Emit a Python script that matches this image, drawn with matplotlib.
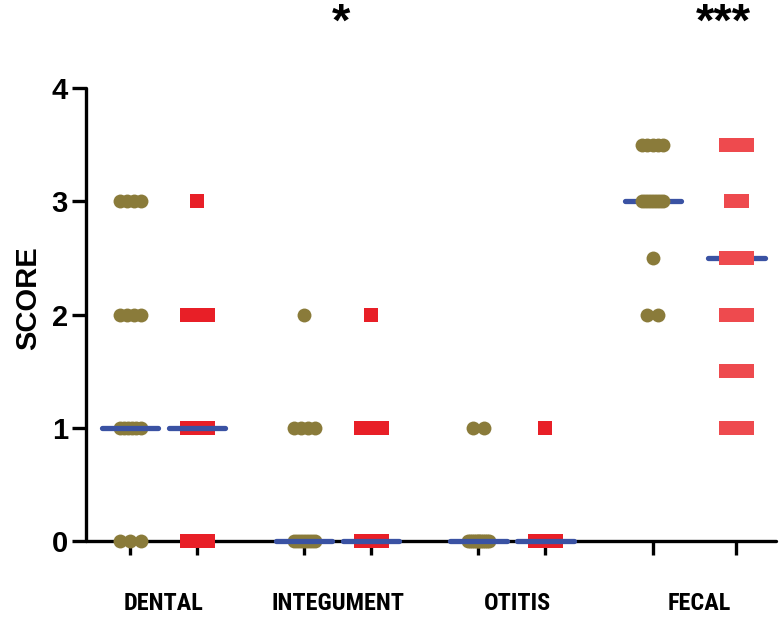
import numpy as np
import matplotlib
matplotlib.use("Agg")
import matplotlib.pyplot as plt
from matplotlib.transforms import blended_transform_factory
from matplotlib import font_manager as fm

# ---- data (scores) ----
categories = ["DENTAL", "INTEGUMENT", "OTITIS", "FECAL"]
dental_a = [3]*4 + [2]*4 + [1]*6 + [0]*3
dental_b = [3]*1 + [2]*4 + [1]*4 + [0]*3
integ_a = [2]*1 + [1]*4 + [0]*8
integ_b = [2]*1 + [1]*4 + [0]*7
otitis_a = [1]*2 + [0]*12
otitis_b = [1]*1 + [0]*10
fecal_a = [3.5]*5 + [3]*8 + [2.5]*1 + [2]*2
fecal_b = [3.5]*5 + [3]*2 + [2.5]*4 + [2]*3 + [1.5]*3 + [1]*3
series = [dental_a, dental_b, integ_a, integ_b, otitis_a, otitis_b, fecal_a, fecal_b]
yticks = [0, 1, 2, 3, 4]
signif = ["", "*", "", "***"]

# ---- layout / style ----
positions = [1, 2, 3.6, 4.6, 6.2, 7.2, 8.8, 10.05]
label_pos = [1.5, 4.1, 6.78, 9.5]
star_pos = [None, 4.15, None, 9.85]
markers = ["o", "s"] * 4
colors = ["#8a7b3a", "#e81f27", "#8a7b3a", "#e81f27", "#8a7b3a", "#e81f27", "#8a7b3a", "#ee4a4e"]
median_z = [6, 6, 6, 6, 6, 6, 3, 3]
BLUE = "#3a52a3"

# find a condensed bold font if available
names = {f.name for f in fm.fontManager.ttflist}
narrow_fam = None
for cand in ["Liberation Sans Narrow", "Roboto Condensed", "Open Sans Condensed", "DejaVu Sans Condensed"]:
    if cand in names:
        narrow_fam = cand
        break
cond_stretch = "normal"
if narrow_fam is None:
    narrow_fam = "DejaVu Sans"
    cond_stretch = "condensed"

fig = plt.figure(figsize=(7.8, 6.17), dpi=100)
ax = fig.add_axes([86/780, 1-541/617, (776-86)/780, (541-88)/617])

step0, maxspread = 0.157, 0.313

def spread(vals):
    vals = np.asarray(vals, dtype=float)
    offs = np.zeros_like(vals)
    for v in np.unique(vals):
        idx = np.where(vals == v)[0]
        n = len(idx)
        if n > 1:
            step = min(step0, maxspread / (n - 1))
            offs[idx] = (np.arange(n) - (n - 1) / 2) * step
    return offs

for i, vals in enumerate(series):
    x = positions[i] + spread(vals)
    ax.plot(x, vals, linestyle="none", marker=markers[i], markersize=10,
            markerfacecolor=colors[i], markeredgewidth=0, clip_on=False, zorder=4)
    med = np.median(vals)
    ax.plot([positions[i]-0.42, positions[i]+0.42], [med, med], color=BLUE, lw=3.8,
            solid_capstyle="round", clip_on=False, zorder=median_z[i])

ax.set_xlim(0.343, 10.64)
ax.set_ylim(0, 4)
ax.set_yticks(yticks)
ax.set_yticklabels([str(t) for t in yticks], fontsize=21, fontweight="bold",
                   family=["Liberation Sans", "DejaVu Sans"])
ax.set_xticks(positions)
ax.set_xticklabels([])
ax.tick_params(axis="both", width=2.4, length=10, color="black", direction="out")
ax.tick_params(axis="y", pad=3)
for s in ["top", "right"]:
    ax.spines[s].set_visible(False)
for s in ["left", "bottom"]:
    ax.spines[s].set_linewidth(2.4)
    ax.spines[s].set_capstyle("round")

trans = blended_transform_factory(ax.transData, fig.transFigure)
for lp, name in zip(label_pos, categories):
    ax.text(lp, 1-604/617, name, transform=trans, ha="center", va="center",
            fontsize=17.5, fontweight="bold", family=narrow_fam, fontstretch=cond_stretch)
for sp, st in zip(star_pos, signif):
    if st:
        ax.text(sp, 1-24/617, st, transform=trans, ha="center", va="center",
                fontsize=34, fontweight="bold", family=["Liberation Sans", "DejaVu Sans"])

fig.text(28/780, 1-298/617, "SCORE", rotation=90, ha="center", va="center",
         fontsize=21, fontweight="bold", family=["Liberation Sans", "DejaVu Sans"])

fig.savefig("out.png", dpi=100)
